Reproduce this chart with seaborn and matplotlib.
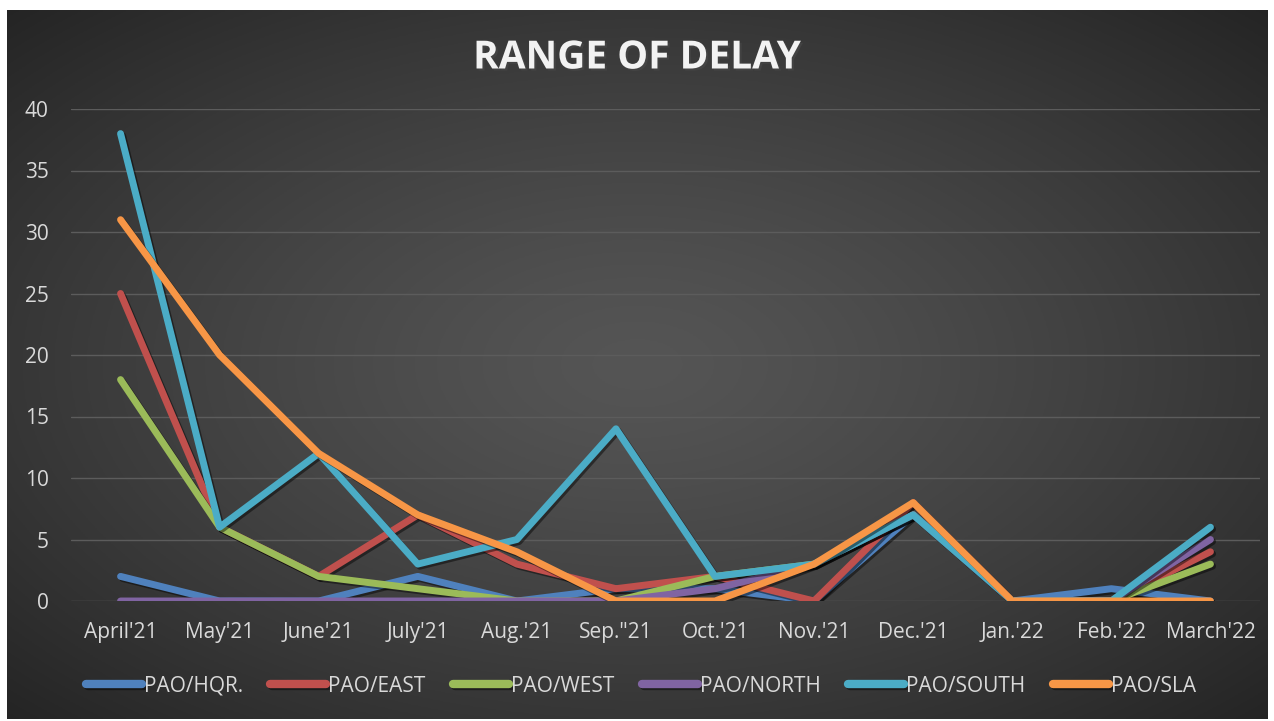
import numpy as np
import pandas as pd
import matplotlib
matplotlib.use("Agg")
import matplotlib.pyplot as plt
import matplotlib.patheffects as pe
import seaborn as sns

months = ["April'21", "May'21", "June'21", "July'21", "Aug.'21", 'Sep."21',
          "Oct.'21", "Nov.'21", "Dec.'21", "Jan.'22", "Feb.'22", "March'22"]

hqr = [2, 0, 0, 2, 0, 1, 1, 0, 7, 0, 1, 0]
east = [25, 6, 2, 7, 3, 1, 2, 0, 8, 0, 0, 4]
west = [18, 6, 2, 1, 0, 0, 2, 3, 7, 0, 0, 3]
north = [0, 0, 0, 0, 0, 0, 1, 3, 7, 0, 0, 5]
south = [38, 6, 12, 3, 5, 14, 2, 3, 7, 0, 0, 6]
sla = [31, 20, 12, 7, 4, 0, 0, 3, 8, 0, 0, 0]

series = ["PAO/HQR.", "PAO/EAST", "PAO/WEST", "PAO/NORTH", "PAO/SOUTH", "PAO/SLA"]
colors = ["#4F81BD", "#C0504D", "#9BBB59", "#8064A2", "#4BACC6", "#F79646"]

frames = []
for name, vals in zip(series, [hqr, east, west, north, south, sla]):
    frames.append(pd.DataFrame({"month": months, "delay": vals, "office": name}))
df = pd.concat(frames, ignore_index=True)

sns.set_style("white")
plt.rcParams['font.family'] = ['Open Sans', 'DejaVu Sans']

fig = plt.figure(figsize=(12.74, 7.21), dpi=100)
fig.patch.set_facecolor("white")

# dark radial gradient background panel
W, H = 1274, 721
bx0, bx1, by0, by1 = 7, 1268, 10, 719
bg = fig.add_axes([bx0 / W, 1 - by1 / H, (bx1 - bx0) / W, (by1 - by0) / H])
yy, xx = np.mgrid[0:1:300j, 0:1:500j]
r = np.sqrt(((xx - 0.5) / 0.75) ** 2 + ((yy - 0.5) / 0.75) ** 2)
r = np.clip(r / 0.95, 0, 1)
light, dark = 0x55 / 255, 0x24 / 255
shade = light + (dark - light) * r ** 1.3
img = np.dstack([shade, shade, shade])
bg.imshow(img, aspect="auto", extent=[0, 1, 0, 1])
bg.set_axis_off()

ax = fig.add_axes([71 / W, 1 - 601 / H, (1260 - 71) / W, (601 - 109) / H])
ax.set_facecolor("none")

sns.lineplot(data=df, x="month", y="delay", hue="office", palette=colors,
             sort=False, linewidth=5, ax=ax, legend=True,
             solid_capstyle="round", solid_joinstyle="round")
for line in ax.get_lines():
    line.set_path_effects([pe.SimpleLineShadow(offset=(1.5, -1.5), shadow_color="black", alpha=0.45),
                           pe.Normal()])

ax.set_xlim(-0.5, len(months) - 0.5)
ax.set_ylim(0, 40)
ax.set_yticks(range(0, 41, 5))
ax.grid(axis="y", color="#5c5c5c", linewidth=1.0)
ax.set_axisbelow(True)
for s in ax.spines.values():
    s.set_visible(False)
ax.set_xlabel("")
ax.set_ylabel("")
ax.tick_params(axis="both", colors="#d9d9d9", labelsize=15, length=0)
ax.tick_params(axis="y", pad=16)
ax.tick_params(axis="x", pad=15)

handles, labels = ax.get_legend_handles_labels()
for h in handles:
    h.set_linewidth(6)
    h.set_solid_capstyle("round")
ax.legend(handles, labels, loc="center", bbox_to_anchor=(0.503, 1 - 686 / H),
          bbox_transform=fig.transFigure, ncol=6, frameon=False,
          fontsize=15, labelcolor="#d9d9d9", handlelength=2.7,
          handletextpad=0.1, columnspacing=1.3)

fig.text(0.5, 1 - 58 / H, "RANGE OF DELAY", ha="center", va="center",
         color="#f2f2f2", fontsize=28, fontweight="bold",
         path_effects=[pe.withSimplePatchShadow(offset=(1.5, -1.5), alpha=0.6)])

fig.savefig("out.png", dpi=100, facecolor=fig.get_facecolor())
